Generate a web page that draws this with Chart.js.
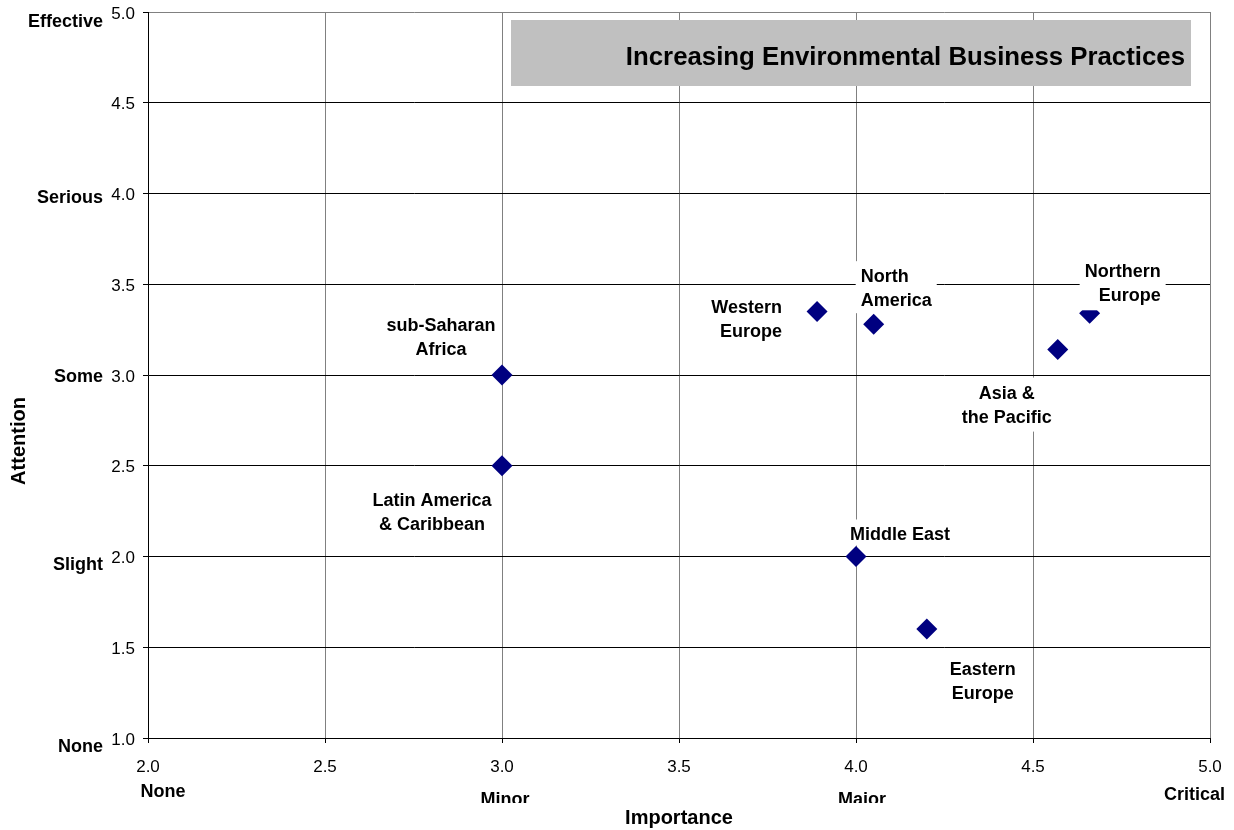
<!DOCTYPE html>
<html>
<head>
<meta charset="utf-8">
<script src="https://cdn.jsdelivr.net/npm/chart.js@4/dist/chart.umd.min.js"></script>
<style>
  html, body { margin: 0; padding: 0; background: #fff; }
  #wrap { width: 1234px; height: 830px; position: relative; }
</style>
</head>
<body>
<div id="wrap"><canvas id="c" width="1234" height="830"></canvas></div>
<script>
// ---- Data ----
const regions = ['sub-Saharan Africa', 'Latin America & Caribbean', 'Western Europe', 'North America',
                 'Northern Europe', 'Asia & the Pacific', 'Middle East', 'Eastern Europe'];
const importance = [3.0, 3.0, 3.89, 4.05, 4.66, 4.57, 4.0, 4.2];
const attention  = [3.0, 2.5, 3.35, 3.28, 3.34, 3.14, 2.0, 1.6];
const labelLines = [['sub-Saharan', 'Africa'], ['Latin America', '& Caribbean'], ['Western', 'Europe'],
                    ['North', 'America'], ['Northern', 'Europe'], ['Asia &', 'the Pacific'],
                    ['Middle East'], ['Eastern', 'Europe']];
const chartTitle = 'Increasing Environmental Business Practices';
const xTitle = 'Importance';
const yTitle = 'Attention';
const xLevelNames = ['None', 'Minor', 'Major', 'Critical'];
const xLevelValues = [2, 3, 4, 5];
const yLevelNames = ['None', 'Slight', 'Some', 'Serious', 'Effective'];
const yLevelValues = [1, 2, 3, 4, 5];

// ---- Label placement (pixel offsets from each point; style only) ----
const labelPlace = [
  { dx: -61, dy: -37, align: 'center', padB: 2 },
  { dx: -70, dy: 47, align: 'center', padB: 2 },
  { dx: -35, dy: 9, align: 'right', padB: 2 },
  { dx: -13, dy: -35, align: 'left', padB: 0 },
  { dx: 71, dy: -29, align: 'right', padB: 2 },
  { dx: -51, dy: 56, align: 'center', padB: 2 },
  { dx: 44, dy: -21, align: 'center', padB: -2 },
  { dx: 56, dy: 53, align: 'center', padB: 2 }
];
const yLevelDy = [9, 9, 2, 5, 10];
const xLevelPlace = [
  { dx: 15, y: 792, align: 'center', clip: false },
  { dx: 3, y: 800, align: 'center', clip: true },
  { dx: 6, y: 800, align: 'center', clip: true },
  { dx: 15, y: 795, align: 'right', clip: false }
];

const FONT = '"Liberation Sans", Arial, sans-serif';

const extras = {
  id: 'extras',
  beforeDraw(chart) {
    const ctx = chart.ctx;
    ctx.save();
    ctx.fillStyle = '#fff';
    ctx.fillRect(0, 0, chart.width, chart.height);
    ctx.restore();
  },
  afterDatasetsDraw(chart) {
    const ctx = chart.ctx;
    const xs = chart.scales.x, ys = chart.scales.y;
    ctx.save();
    // title box
    ctx.fillStyle = '#c0c0c0';
    ctx.fillRect(511, 20, 680, 66);
    ctx.fillStyle = '#000';
    ctx.font = 'bold 25.8px ' + FONT;
    ctx.textAlign = 'right';
    ctx.textBaseline = 'middle';
    ctx.fillText(chartTitle, 1185, 58);

    // point labels
    ctx.font = 'bold 18px ' + FONT;
    const lh = 24;
    labelLines.forEach((lines, i) => {
      const px = xs.getPixelForValue(importance[i]);
      const py = ys.getPixelForValue(attention[i]);
      const p = labelPlace[i];
      const ax = px + p.dx, cy = py + p.dy;
      const w = Math.max(...lines.map(l => ctx.measureText(l).width));
      let left;
      if (p.align === 'center') left = ax - w / 2;
      else if (p.align === 'right') left = ax - w;
      else left = ax;
      const h = lines.length * lh;
      const top = cy - h / 2 - 4;
      const bottom = cy + h / 2 + p.padB;
      ctx.fillStyle = '#fff';
      ctx.fillRect(left - 5, top, w + 10, bottom - top);
      ctx.fillStyle = '#000';
      ctx.textAlign = p.align;
      ctx.textBaseline = 'middle';
      lines.forEach((l, j) => {
        ctx.fillText(l, ax, cy - h / 2 + lh / 2 + j * lh);
      });
    });
    ctx.restore();
  },
  afterDraw(chart) {
    const ctx = chart.ctx;
    const xs = chart.scales.x, ys = chart.scales.y;
    ctx.save();
    ctx.fillStyle = '#000';
    // y level names
    ctx.font = 'bold 18px ' + FONT;
    ctx.textAlign = 'right';
    ctx.textBaseline = 'middle';
    yLevelNames.forEach((n, i) => {
      ctx.fillText(n, 103, ys.getPixelForValue(yLevelValues[i]) + yLevelDy[i]);
    });
    // x level names
    xLevelNames.forEach((n, i) => {
      const p = xLevelPlace[i];
      const x = xs.getPixelForValue(xLevelValues[i]) + p.dx;
      ctx.save();
      if (p.clip) {
        ctx.beginPath();
        ctx.rect(0, 0, chart.width, 803);
        ctx.clip();
      }
      ctx.textAlign = p.align;
      ctx.fillText(n, x, p.y);
      ctx.restore();
    });
    // axis titles
    ctx.font = 'bold 20px ' + FONT;
    ctx.textAlign = 'center';
    ctx.fillText(xTitle, (xs.left + xs.right) / 2, 818);
    ctx.translate(19, 441);
    ctx.rotate(-Math.PI / 2);
    ctx.fillText(yTitle, 0, 0);
    ctx.restore();
  }
};

new Chart(document.getElementById('c'), {
  type: 'scatter',
  data: {
    datasets: [{
      label: 'Regions',
      data: importance.map((v, i) => ({ x: v, y: attention[i] })),
      pointStyle: 'rectRot',
      pointRadius: 10.5,
      pointHoverRadius: 10.5,
      backgroundColor: '#000080',
      borderColor: '#000080',
      borderWidth: 0
    }]
  },
  options: {
    responsive: false,
    animation: false,
    events: [],
    layout: { padding: { left: 0, right: 24, top: 12, bottom: 0 } },
    plugins: { legend: { display: false }, tooltip: { enabled: false }, title: { display: false } },
    scales: {
      x: {
        type: 'linear',
        min: 2, max: 5,
        afterFit(scale) { scale.height = 92; scale.paddingLeft = 0; scale.paddingRight = 0; },
        ticks: {
          stepSize: 0.5,
          color: '#000',
          font: { family: FONT, size: 17 },
          padding: 14,
          maxRotation: 0,
          callback: v => Number(v).toFixed(1)
        },
        grid: {
          color: '#808080',
          lineWidth: 1,
          tickLength: 5,
          tickColor: '#000',
          drawTicks: true
        },
        border: { color: '#000', width: 1 }
      },
      y: {
        type: 'linear',
        min: 1, max: 5,
        afterFit(scale) { scale.width = 148; scale.paddingTop = 0; scale.paddingBottom = 0; },
        ticks: {
          stepSize: 0.5,
          color: '#000',
          font: { family: FONT, size: 17 },
          padding: 8,
          labelOffset: 2,
          callback: v => Number(v).toFixed(1)
        },
        grid: {
          color: ctx => (ctx.tick && ctx.tick.value === 5) ? '#808080' : '#000',
          lineWidth: 1,
          tickLength: 5,
          tickColor: '#000',
          drawTicks: true
        },
        border: { color: '#000', width: 1 }
      }
    }
  },
  plugins: [extras]
});
</script>
</body>
</html>
